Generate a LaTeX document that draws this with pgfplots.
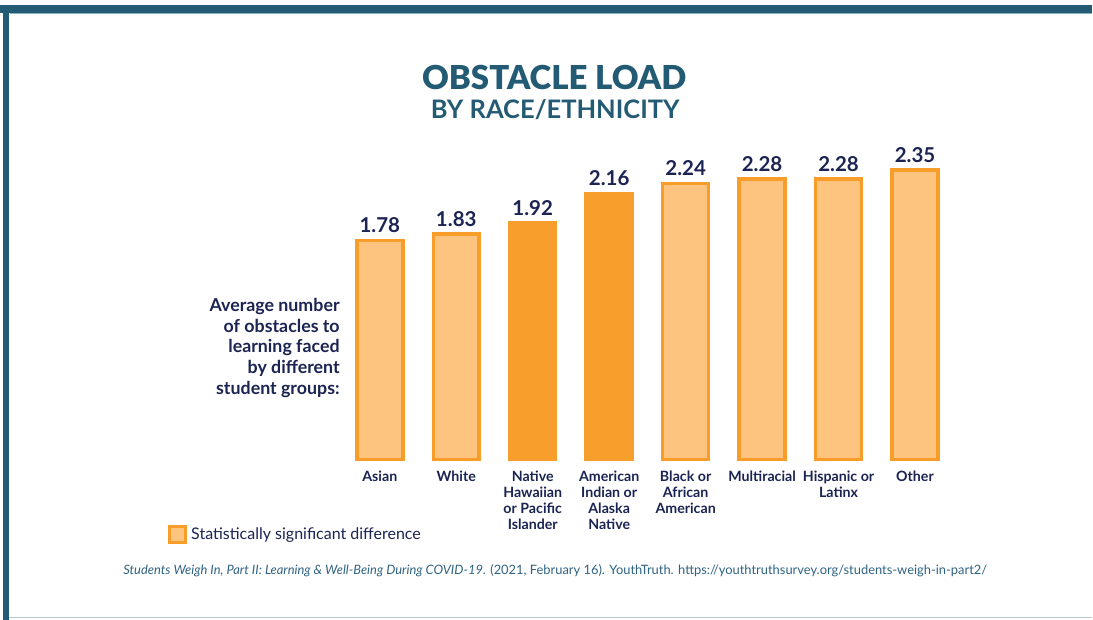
\documentclass[border=0pt]{standalone}
\usepackage{pgfplots}
\pgfplotsset{compat=1.18}
\usepackage{fontspec}
\setmainfont{Lato}
\newfontfamily\latoblack{Lato Black}
\definecolor{navy}{HTML}{1B2452}
\definecolor{teal}{HTML}{245B74}
\definecolor{tealline}{HTML}{8DB0C0}
\definecolor{botline}{HTML}{B8C8D2}
\definecolor{orlight}{HTML}{FCC47E}
\definecolor{orstroke}{HTML}{F89D2A}
\definecolor{ordark}{HTML}{F89E2C}
\definecolor{foot}{HTML}{2F6382}
\begin{document}
\begin{tikzpicture}[x=1pt,y=1pt]
\fill[white] (0,0) rectangle (1093,620);
% frame
\fill[teal] (0,607) rectangle (1093,614.5);
\draw[tealline, line width=1pt] (10,606.5) -- (1093,606.5);
\fill[teal] (3,0) rectangle (9.5,614.5);
\draw[botline, line width=1.2pt] (9.5,2.5) -- (1093,2.5);
% titles
\node[anchor=base, inner sep=0pt, text=teal, font=\fontsize{33}{40}\latoblack] at (554.5,530) {OBSTACLE LOAD};
\node[anchor=base, inner sep=0pt, text=teal, font=\fontsize{25.5}{30}\selectfont\bfseries] at (555.5,501) {BY RACE/ETHNICITY};
% left description
\begin{scope}[every node/.style={anchor=base east, inner sep=0pt, text=navy, font=\fontsize{17.8}{21}\selectfont\bfseries}]
\node at (340,308.3) {Average number};
\node at (340,287.6) {of obstacles to};
\node at (340,266.9) {learning faced};
\node at (340,246.2) {by different};
\node at (340,225.5) {student groups:};
\end{scope}
% footer
\node[anchor=base, inner sep=0pt, text=foot, font=\fontsize{12.9}{15}\selectfont] at (555.5,45) {\textit{Students Weigh In, Part II: Learning \& Well-Being During COVID-19}. (2021, February 16). YouthTruth. https://youthtruthsurvey.org/students-weigh-in-part2/};
\begin{axis}[
  at={(380pt,160pt)}, anchor=origin,
  x=76.5pt, y=123.3pt,
  xmin=-0.6, xmax=7.6, ymin=0, ymax=2.6,
  clip=false,
  axis line style={draw=none},
  ytick=\empty,
  xtick={0,...,7},
  major tick length=0pt,
  xticklabels={Asian, White, {Native\\Hawaiian\\or Pacific\\Islander}, {American\\Indian or\\Alaska\\Native}, {Black or\\African\\American}, Multiracial, {Hispanic or\\Latinx}, Other},
  xticklabel style={align=center, text=navy, font=\fontsize{14.2}{16}\selectfont\bfseries, yshift=-8pt},
  ybar, bar width=46pt,
  point meta=y,
  nodes near coords,
  every node near coord/.append style={text=navy, font=\fontsize{20.5}{24}\selectfont\bfseries, yshift=2.5pt},
  /pgf/number format/.cd, fixed, precision=2, fixed zerofill, assume math mode=true,
  /pgfplots/.cd,
  legend style={draw=none, fill=none, inner sep=0pt, at={(axis cs:-2.77,-0.608)}, anchor=west, font=\fontsize{16}{19}\selectfont, text=navy, /tikz/every odd column/.append style={column sep=2pt}},
]
\addplot[bar shift=0pt, fill=orlight, draw=orstroke, line width=3.5pt,
  legend image code/.code={\draw[fill=orlight, draw=orstroke, line width=3pt] (0pt,-8pt) rectangle (16pt,8pt);}]
  coordinates {(0,1.78) (1,1.83) (4,2.24) (5,2.28) (6,2.28) (7,2.35)};
\addlegendentry{Statistically significant difference}
\addplot[bar shift=0pt, fill=ordark, draw=ordark, line width=3.5pt, forget plot]
  coordinates {(2,1.92) (3,2.16)};
\end{axis}
\end{tikzpicture}
\end{document}
